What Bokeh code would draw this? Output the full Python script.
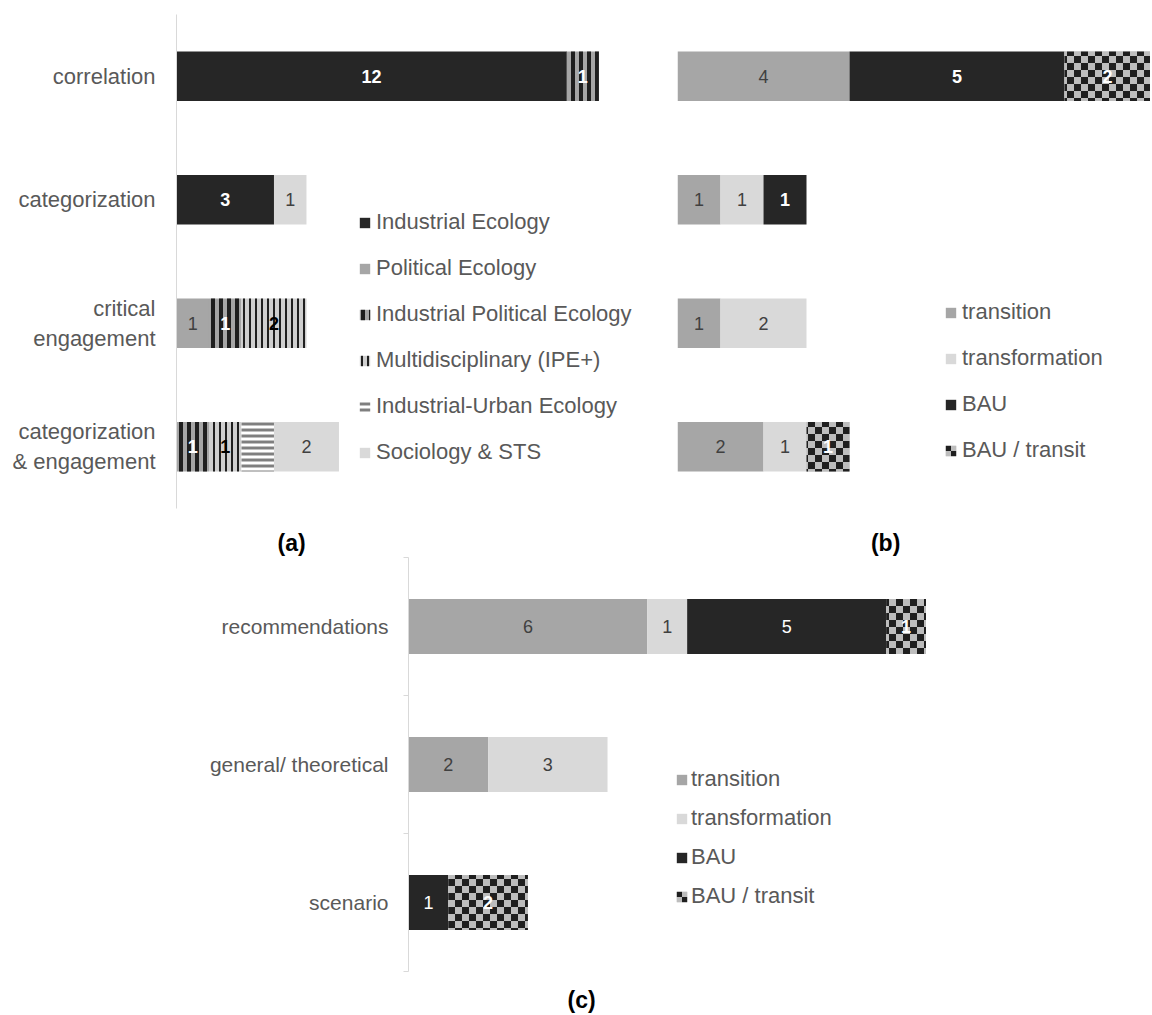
import base64
import numpy as np
from bokeh.plotting import figure
from bokeh.models import (Range1d, Legend, LegendItem, FixedTicker,
                          ImageURLTexture, ColumnDataSource)
from bokeh.layouts import column, row
from bokeh.embed import file_html
from bokeh.resources import INLINE
from bokeh.core.properties import value

# ---------------- data ----------------
cats_a = ["correlation", "categorization", "critical\nengagement", "categorization\n& engagement"]
series_a = ["Industrial Ecology", "Political Ecology", "Industrial Political Ecology",
            "Multidisciplinary (IPE+)", "Industrial-Urban Ecology", "Sociology & STS"]
ie_a = [12, 3, 0, 0]
pe_a = [0, 0, 1, 0]
ipe_a = [1, 0, 1, 1]
multi_a = [0, 0, 2, 1]
iue_a = [0, 0, 0, 1]
soc_a = [0, 1, 0, 2]

cats_b = ["correlation", "categorization", "critical\nengagement", "categorization\n& engagement"]
series_bc = ["transition", "transformation", "BAU", "BAU / transit"]
transition_b = [4, 1, 1, 2]
transformation_b = [0, 1, 2, 1]
bau_b = [5, 1, 0, 0]
bautransit_b = [2, 0, 0, 1]

cats_c = ["recommendations", "general/ theoretical", "scenario"]
transition_c = [6, 2, 0]
transformation_c = [1, 3, 0]
bau_c = [5, 0, 1]
bautransit_c = [1, 0, 2]

panel_names = ["(a)", "(b)", "(c)"]

# ---------------- styles ----------------
FONT = "Liberation Sans"
LABEL_GRAY = "#595959"

checker_svg = ('<svg xmlns="http://www.w3.org/2000/svg" width="14" height="14">'
               '<rect width="14" height="14" fill="#bdbdbd"/>'
               '<rect width="7" height="7" fill="#1f1f1f"/>'
               '<rect x="7" y="7" width="7" height="7" fill="#1f1f1f"/></svg>')
checker_url = "data:image/svg+xml;base64," + base64.b64encode(checker_svg.encode()).decode()


def checker_style():
    return dict(fill_color="#bdbdbd", hatch_pattern=value("checker"),
                hatch_extra={"checker": ImageURLTexture(url=checker_url)})


WHITE_B = dict(text_color="white", text_font_style="bold")
DARK_N = dict(text_color="#404040", text_font_style="normal")
BLACK_B = dict(text_color="black", text_font_style="bold")
WHITE_N = dict(text_color="white", text_font_style="normal")

styles_a = [
    (dict(fill_color="#262626"), WHITE_B),
    (dict(fill_color="#a6a6a6"), DARK_N),
    (dict(fill_color="#a6a6a6", hatch_pattern="vertical_line", hatch_color="#1f1f1f",
          hatch_scale=8, hatch_weight=4), WHITE_B),
    (dict(fill_color="#cfcfcf", hatch_pattern="vertical_line", hatch_color="#1f1f1f",
          hatch_scale=6, hatch_weight=2), BLACK_B),
    (dict(fill_color="#ffffff", hatch_pattern="horizontal_line", hatch_color="#7f7f7f",
          hatch_scale=6, hatch_weight=3), None),
    (dict(fill_color="#d9d9d9"), DARK_N),
]


def styles_bc(bau_text):
    return [
        (dict(fill_color="#a6a6a6"), DARK_N),
        (dict(fill_color="#d9d9d9"), DARK_N),
        (dict(fill_color="#262626"), bau_text),
        (checker_style(), WHITE_B),
    ]


def centres(cats):
    n = len(cats)
    return [n - 0.5 - i for i in range(n)]   # first category on top


def draw_stack(p, ys, values, styles):
    left = np.zeros(len(ys))
    rends = []
    for vals, (bar_st, txt_st) in zip(values, styles):
        vals = np.array(vals, dtype=float)
        right = left + vals
        src = ColumnDataSource(dict(y=ys, left=left.copy(), right=right.copy()))
        r = p.hbar(y="y", left="left", right="right", height=0.4, source=src,
                   line_color=None, **bar_st)
        rends.append(r)
        if txt_st is not None:
            m = vals > 0
            tsrc = ColumnDataSource(dict(
                x=((left + right) / 2)[m],
                y=[c for c, k in zip(ys, m) if k],
                t=[str(int(v)) for v in vals[m]]))
            p.text(x="x", y="y", text="t", source=tsrc, text_align="center",
                   text_baseline="middle", text_font=value(FONT),
                   text_font_size="18px", **txt_st)
        left = right
    return rends


def make_legend(rends, names, loc, spacing, standoff):
    return Legend(items=[LegendItem(label=n, renderers=[r]) for n, r in zip(names, rends)],
                  location=loc, border_line_color=None, background_fill_alpha=0,
                  padding=0, margin=0, spacing=spacing, label_height=26,
                  glyph_width=13, glyph_height=13, label_standoff=standoff,
                  label_text_font_size="22px", label_text_color=LABEL_GRAY,
                  label_text_font=FONT)


def panel_label(p, x, y, text):
    p.text(x=[x], y=[y], text=[text], text_align="center", text_baseline="middle",
           text_font=value(FONT), text_font_size="23px", text_font_style="bold",
           text_color="black")


def base_fig(**kw):
    p = figure(output_backend="svg", toolbar_location=None, outline_line_color=None,
               x_axis_location=None, **kw)
    p.xgrid.visible = False
    p.ygrid.visible = False
    return p


def style_cat_axis(ax, ys, cats, size, standoff, tick_out):
    n = len(cats)
    ax.ticker = FixedTicker(ticks=ys, minor_ticks=list(range(n + 1)) if tick_out else [])
    ax.major_label_overrides = {y: c for y, c in zip(ys, cats)}
    ax.bounds = (0, n)
    ax.axis_line_color = "#d9d9d9"
    ax.major_tick_line_color = None
    ax.major_tick_out = 0
    ax.major_tick_in = 0
    ax.minor_tick_line_color = "#d9d9d9" if tick_out else None
    ax.minor_tick_out = tick_out
    ax.minor_tick_in = 0
    ax.major_label_standoff = standoff
    ax.major_label_text_font = FONT
    ax.major_label_text_font_size = size
    ax.major_label_text_color = LABEL_GRAY


# ---------------- panel (a) ----------------
ys_a = centres(cats_a)
fa = base_fig(width=640, height=557, y_range=Range1d(-0.3968, len(cats_a)),
              x_range=Range1d(0, 14.28), min_border_left=176, min_border_right=0,
              min_border_top=14, min_border_bottom=0)
ra = draw_stack(fa, ys_a, [ie_a, pe_a, ipe_a, multi_a, iue_a, soc_a], styles_a)
style_cat_axis(fa.yaxis[0], ys_a, cats_a, "22px", 21, 0)
fa.add_layout(make_legend(ra, series_a, (182, 92), 20, 5))
panel_label(fa, 3.54, -0.283, panel_names[0])

# ---------------- panel (b) ----------------
ys_b = centres(cats_b)
fb = base_fig(width=510, height=557, y_range=Range1d(-0.3968, len(cats_b)),
              x_range=Range1d(0, 11.0), y_axis_location=None, min_border_left=37,
              min_border_right=0, min_border_top=14, min_border_bottom=0)
rb = draw_stack(fb, ys_b, [transition_b, transformation_b, bau_b, bautransit_b],
                styles_bc(WHITE_B))
fb.add_layout(make_legend(rb, series_bc, (267, 94), 20, 5))
panel_label(fb, 4.84, -0.283, panel_names[1])

# ---------------- panel (c) ----------------
ys_c = centres(cats_c)
fc = base_fig(width=1150, height=457, y_range=Range1d(-0.3116, len(cats_c)),
              x_range=Range1d(0, 18.64), min_border_left=408,
              min_border_right=0, min_border_top=0, min_border_bottom=0)
style_cat_axis(fc.yaxis[0], ys_c, cats_c, "21px", 15, 5)
rc = draw_stack(fc, ys_c, [transition_c, transformation_c, bau_c, bautransit_c],
                styles_bc(WHITE_N))
fc.add_layout(make_legend(rc, series_bc, (267, 105), 13, 3))
panel_label(fc, 4.35, -0.21, panel_names[2])

layout = column(row(fa, fb), fc)
open("out.html", "w").write(file_html(layout, INLINE))
